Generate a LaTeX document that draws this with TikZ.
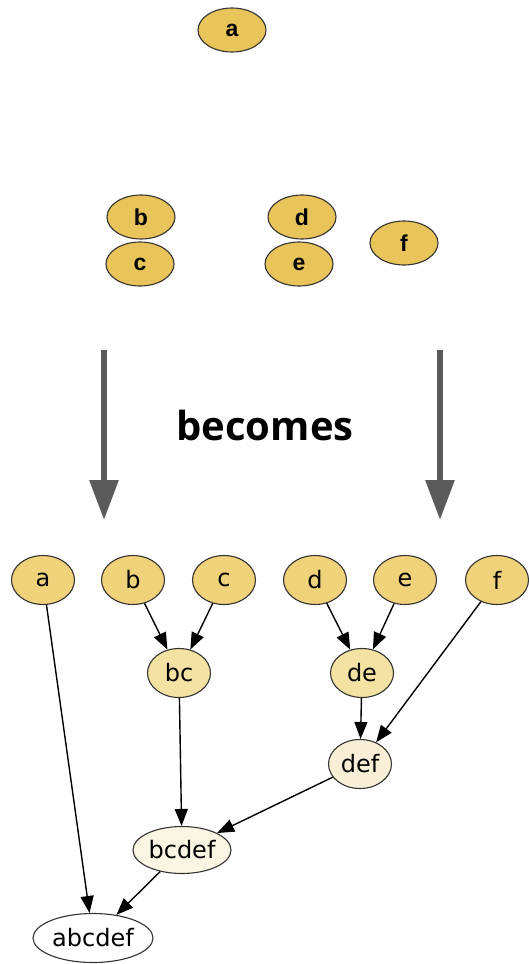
\documentclass[tikz,border=0pt]{standalone}
\usepackage{fontspec}
\usetikzlibrary{shapes.geometric,arrows.meta}
\newfontfamily\dvsans{DejaVu Sans}
\newfontfamily\lsans{Liberation Sans}
\newfontfamily\osans{Open Sans}
\definecolor{gold}{HTML}{E8C45A}
\definecolor{goldA}{HTML}{EFD27A}
\definecolor{goldB}{HTML}{F4E2A2}
\definecolor{goldC}{HTML}{F8EFD6}
\definecolor{goldD}{HTML}{FBF5E4}
\definecolor{bigarrow}{HTML}{5A5A5A}
\definecolor{rim}{HTML}{333333}
\tikzset{
  topnode/.style={ellipse, draw=rim, line width=1.1pt, fill=gold, inner sep=0pt,
    minimum width=68pt, minimum height=44pt, font=\lsans\bfseries\fontsize{23}{27}\selectfont},
  gnode/.style={ellipse, draw=rim, line width=1.1pt, inner sep=0pt,
    minimum width=63pt, minimum height=49pt, font=\dvsans\fontsize{24}{28}\selectfont},
  gedge/.style={line width=1.4pt, -{Triangle[length=17pt,width=13pt]}},
  bigarr/.style={draw=bigarrow, line width=6pt, -{Triangle[length=40pt,width=28pt]}, color=bigarrow}
}
\begin{document}
\begin{tikzpicture}[x=1pt,y=-1pt]
\useasboundingbox (0,0) rectangle (529,964);
% top
\node[topnode] (ta) at (232,30) {a};
\node[topnode] (tb) at (141,217) {b};
\node[topnode] (tc) at (140,264) {c};
\node[topnode] (td) at (302,217) {d};
\node[topnode] (te) at (299,264) {e};
\node[topnode] (tf) at (404,243) {f};
% becomes
\coordinate (l1) at (104,350);
\coordinate (l2) at (104,520);
\coordinate (r1) at (440,350);
\coordinate (r2) at (440,520);
\draw[bigarr] (l1) -- (l2);
\draw[bigarr] (r1) -- (r2);
\node[font=\osans\bfseries\fontsize{40}{46}\selectfont, inner sep=0pt] (becomes) at (265,425) {becomes};
% bottom graph
\begin{scope}
\clip (0,0) rectangle (529,964);
\node[gnode, fill=goldA] (a) at (43,580) {a};
\node[gnode, fill=goldA] (b) at (133,580) {b};
\node[gnode, fill=goldA] (c) at (224,580) {c};
\node[gnode, fill=goldA] (d) at (315,580) {d};
\node[gnode, fill=goldA] (e) at (405,580) {e};
\node[gnode, fill=goldA] (f) at (497,580) {f};
\node[gnode, fill=goldB] (bc) at (179,673) {bc};
\node[gnode, fill=goldB] (de) at (362,673) {de};
\node[gnode, fill=goldC] (def) at (360,764) {def};
\node[gnode, fill=goldD, minimum width=98pt, minimum height=47pt] (bcdef) at (182,850) {bcdef};
\node[gnode, fill=white, minimum width=120pt, minimum height=49pt] (abcdef) at (93,938) {abcdef};
\end{scope}
\draw[gedge] (b) -- (bc);
\draw[gedge] (c) -- (bc);
\draw[gedge] (d) -- (de);
\draw[gedge] (e) -- (de);
\draw[gedge] (de) -- (def);
\draw[gedge] (f) -- (def);
\draw[gedge] (bc) -- (bcdef);
\draw[gedge] (def) -- (bcdef);
\draw[gedge] (bcdef) -- (abcdef);
\draw[gedge] (a) -- (abcdef);
\end{tikzpicture}
\end{document}
